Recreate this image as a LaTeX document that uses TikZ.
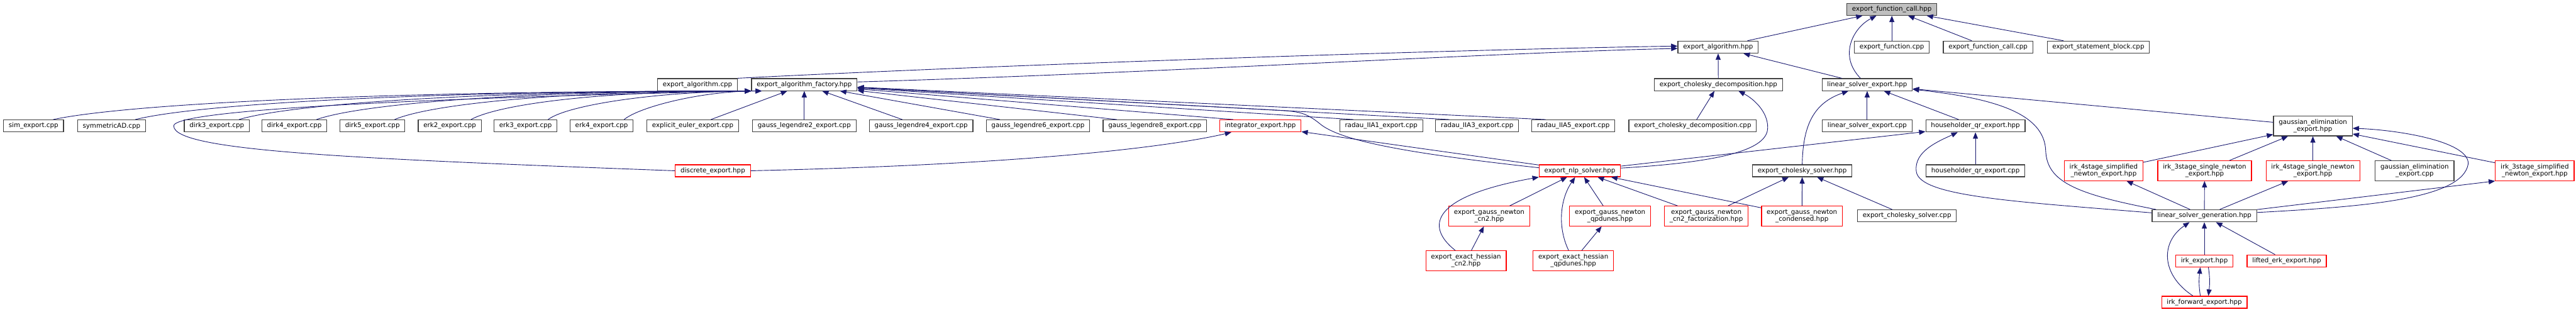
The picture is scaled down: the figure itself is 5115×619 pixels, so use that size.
\documentclass[tikz,border=0pt]{standalone}
\usepackage{fontspec}
\setmainfont{DejaVu Sans}
\usepackage{tikz}
\usetikzlibrary{arrows.meta}
\definecolor{edgeblue}{HTML}{191970}
\definecolor{boxgrey}{HTML}{404040}
\definecolor{boxred}{HTML}{FF0000}
\definecolor{rootfill}{HTML}{BFBFBF}
\newcommand{\filefont}{\fontsize{9.65pt}{10.7pt}\selectfont}
\tikzstyle{filebox} = [rectangle, draw=boxgrey, line width=1.1pt, fill=white, inner xsep=7.8pt, inner ysep=0pt, minimum height=17.9pt, align=center, font=\filefont]
\tikzstyle{hdrbox} = [filebox, draw=boxred]
\tikzstyle{rootbox} = [filebox, fill=rootfill]
\tikzstyle{twoline} = [minimum height=29.5pt]
\tikzstyle{arrow} = [->, >={Triangle[length=9.5pt,width=7.5pt]}, draw=edgeblue, line width=0.85pt]

\begin{document}
\begin{tikzpicture}[x=0.75pt, y=-0.75pt]
\useasboundingbox (0,0) rectangle (5115,619);

\node (fcallhpp) [rootbox] at (3756.5,18.5) {export\_function\_call.hpp};

\node (algohpp) [filebox] at (3411.5,93.5) {export\_algorithm.hpp};
\node (funccpp) [filebox] at (3756.5,93.5) {export\_function.cpp};
\node (fcallcpp) [filebox] at (3947.5,93.5) {export\_function\_call.cpp};
\node (stmtcpp) [filebox] at (4166.5,93.5) {export\_statement\_block.cpp};

\node (algocpp) [filebox] at (1385,168) {export\_algorithm.cpp};
\node (factory) [filebox] at (1597,168) {export\_algorithm\_factory.hpp};
\node (choldechpp) [filebox] at (3412,168) {export\_cholesky\_decomposition.hpp};
\node (lsehpp) [filebox] at (3707.5,168) {linear\_solver\_export.hpp};

\node (simcpp) [filebox] at (66.5,250) {sim\_export.cpp};
\node (symad) [filebox] at (221.5,250) {symmetricAD.cpp};
\node (dirk3) [filebox] at (430.5,250) {dirk3\_export.cpp};
\node (dirk4) [filebox] at (584.5,250) {dirk4\_export.cpp};
\node (dirk5) [filebox] at (739.5,250) {dirk5\_export.cpp};
\node (erk2) [filebox] at (893,250) {erk2\_export.cpp};
\node (erk3) [filebox] at (1043.5,250) {erk3\_export.cpp};
\node (erk4) [filebox] at (1194.5,250) {erk4\_export.cpp};
\node (euler) [filebox] at (1375.5,250) {explicit\_euler\_export.cpp};
\node (gl2) [filebox] at (1597,250) {gauss\_legendre2\_export.cpp};
\node (gl4) [filebox] at (1829,250) {gauss\_legendre4\_export.cpp};
\node (gl6) [filebox] at (2061,250) {gauss\_legendre6\_export.cpp};
\node (gl8) [filebox] at (2293,250) {gauss\_legendre8\_export.cpp};
\node (integrator) [hdrbox] at (2502.5,250) {integrator\_export.hpp};
\node (radau1) [filebox] at (2742.5,250) {radau\_IIA1\_export.cpp};
\node (radau3) [filebox] at (2933,250) {radau\_IIA3\_export.cpp};
\node (radau5) [filebox] at (3124,250) {radau\_IIA5\_export.cpp};
\node (choldeccpp) [filebox] at (3361,250) {export\_cholesky\_decomposition.cpp};
\node (lsecpp) [filebox] at (3707.5,250) {linear\_solver\_export.cpp};
\node (hqrhpp) [filebox] at (3922.5,250) {householder\_qr\_export.hpp};
\node (gausselimhpp) [filebox, twoline] at (4592.5,250) {gaussian\_elimination\\\_export.hpp};

\node (discrete) [hdrbox] at (1415.5,339) {discrete\_export.hpp};
\node (nlp) [hdrbox] at (3137,339) {export\_nlp\_solver.hpp};
\node (cholsolvhpp) [filebox] at (3578.5,339) {export\_cholesky\_solver.hpp};
\node (hqrcpp) [filebox] at (3922.5,339) {householder\_qr\_export.cpp};
\node (irk4simp) [hdrbox, twoline] at (4177,339) {irk\_4stage\_simplified\\\_newton\_export.hpp};
\node (irk3single) [hdrbox, twoline] at (4377.5,339) {irk\_3stage\_single\_newton\\\_export.hpp};
\node (irk4single) [hdrbox, twoline] at (4592.5,339) {irk\_4stage\_single\_newton\\\_export.hpp};
\node (gausselimcpp) [filebox, twoline] at (4794.5,339) {gaussian\_elimination\\\_export.cpp};
\node (irk3simp) [hdrbox, twoline] at (5033,339) {irk\_3stage\_simplified\\\_newton\_export.hpp};

\node (gncn2) [hdrbox, twoline] at (2957,429) {export\_gauss\_newton\\\_cn2.hpp};
\node (gnqp) [hdrbox, twoline] at (3197,429) {export\_gauss\_newton\\\_qpdunes.hpp};
\node (gncn2fact) [hdrbox, twoline] at (3388,429) {export\_gauss\_newton\\\_cn2\_factorization.hpp};
\node (gncond) [hdrbox, twoline] at (3578,429) {export\_gauss\_newton\\\_condensed.hpp};
\node (cholsolvcpp) [filebox] at (3786.5,428.5) {export\_cholesky\_solver.cpp};
\node (lsgen) [filebox] at (4377,428.5) {linear\_solver\_generation.hpp};

\node (ehcn2) [hdrbox, twoline] at (2911,517.5) {export\_exact\_hessian\\\_cn2.hpp};
\node (ehqp) [hdrbox, twoline] at (3124,517.5) {export\_exact\_hessian\\\_qpdunes.hpp};
\node (irk) [hdrbox] at (4377,518) {irk\_export.hpp};
\node (lifted) [hdrbox] at (4540.5,518) {lifted\_erk\_export.hpp};

\node (irkfwd) [hdrbox] at (4377,600) {irk\_forward\_export.hpp};

\draw [arrow] (algohpp) -- (fcallhpp);
\draw [arrow] ([xshift=-10pt]lsehpp.north) .. controls (3650,110) and (3680,55) .. ([xshift=-23pt]fcallhpp.south);
\draw [arrow] (funccpp) -- (fcallhpp);
\draw [arrow] (fcallcpp) -- (fcallhpp);
\draw [arrow] (stmtcpp) -- (fcallhpp);

\draw [arrow] (algocpp.north east) .. controls (2000,128) and (2900,98) .. ([yshift=1.5pt]algohpp.west);
\draw [arrow] ([yshift=4pt]factory.east) .. controls (2300,145) and (2950,105) .. ([yshift=-2pt]algohpp.west);
\draw [arrow] (choldechpp) -- (algohpp);
\draw [arrow] (lsehpp) -- (algohpp);

\foreach \n/\a/\b in {simcpp/140/760, symad/120/670, dirk3/100/560, dirk4/85/475, dirk5/70/390, erk2/55/305}
  \draw [arrow] ([xshift=-16pt]\n.north east) .. controls +(\a,-30) and +(-\b,0) .. (factory.south west);
\draw [arrow] ([xshift=-14pt]erk3.north east) .. controls +(40,-30) and +(-200,0) .. ([xshift=16pt]factory.south west);
\draw [arrow] ([xshift=-14pt]erk4.north east) .. controls +(30,-25) and +(-120,0) .. ([xshift=16pt]factory.south west);
\draw [arrow] ([xshift=27pt]euler.north) -- (factory);
\draw [arrow] (gl2) -- (factory);
\draw [arrow] ([xshift=-28pt]gl4.north) -- (factory);
\foreach \n in {gl6, gl8, integrator, radau1, radau3, radau5}
  \draw [arrow] ([xshift=21pt]\n.north west) -- (factory);
\draw [arrow] (discrete.west) .. controls (700,315) and (345,300) .. (345,250) .. controls (345,205) and (1300,185) .. (factory.south west);
\draw [arrow] ([yshift=4.5pt]nlp.west) .. controls (2800,305) and (2660,280) .. (2620,245) .. controls (2595,225) and (2580,221) .. (2540,219) -- (factory);

\draw [arrow] (discrete.east) .. controls (2100,325) and (2350,285) .. ([xshift=18pt]integrator.south west);
\draw [arrow] (nlp) -- (integrator);

\draw [arrow] (choldeccpp) -- (choldechpp);
\draw [arrow] ([yshift=4pt]nlp.east) .. controls (3450,320) and (3510,290) .. (3510,253) .. controls (3510,220) and (3480,195) .. ([xshift=30pt]choldechpp.south);

\draw [arrow] (cholsolvhpp.north) .. controls (3580,250) and (3600,205) .. ([xshift=-28pt]lsehpp.south);
\draw [arrow] (lsecpp) -- (lsehpp);
\draw [arrow] (hqrhpp) -- (lsehpp);
\draw [arrow] (gausselimhpp) -- (lsehpp);
\draw [arrow] ([xshift=6.5pt]lsgen.north west) .. controls (4120,385) and (4065,360) .. (4062,300) .. controls (4060,225) and (3960,195) .. ([yshift=-7pt]lsehpp.east);

\draw [arrow] (hqrcpp) -- (hqrhpp);
\draw [arrow] (nlp) -- (hqrhpp);
\draw [arrow] ([yshift=4.5pt]lsgen.west) .. controls (4000,400) and (3810,390) .. (3805,340) .. controls (3800,300) and (3850,280) .. ([xshift=-26.5pt]hqrhpp.south);

\draw [arrow] (gncn2fact) -- (cholsolvhpp);
\draw [arrow] (gncond) -- (cholsolvhpp);
\draw [arrow] (cholsolvcpp) -- (cholsolvhpp);

\draw [arrow] (gncn2) -- (nlp);
\draw [arrow] ([xshift=-16pt]ehcn2.north) .. controls (2830,450) and (2840,390) .. (nlp.south west);
\draw [arrow] ([xshift=-7pt]ehqp.north) .. controls (3092,450) and (3098,395) .. ([xshift=-7pt]nlp.south);
\draw [arrow] (gnqp) -- (nlp);
\draw [arrow] (gncn2fact) -- (nlp);
\draw [arrow] (gncond) -- (nlp);
\draw [arrow] (ehcn2) -- (gncn2);
\draw [arrow] (ehqp) -- (gnqp);

\draw [arrow] (irk4simp) -- (gausselimhpp);
\draw [arrow] (irk3single) -- (gausselimhpp);
\draw [arrow] (irk4single) -- (gausselimhpp);
\draw [arrow] (gausselimcpp) -- (gausselimhpp);
\draw [arrow] (irk3simp) -- (gausselimhpp);
\draw [arrow] ([yshift=5pt]lsgen.east) .. controls (4700,410) and (4890,395) .. (4901,325) .. controls (4902,280) and (4760,258) .. ([yshift=-3.5pt]gausselimhpp.east);

\draw [arrow] (lsgen) -- (irk4simp);
\draw [arrow] (lsgen) -- (irk3single);
\draw [arrow] (lsgen) -- (irk4single);
\draw [arrow] (lsgen) -- (irk3simp.south west);

\draw [arrow] (irk) -- (lsgen);
\draw [arrow] (lifted) -- (lsgen);
\draw [arrow] ([xshift=-17pt]irkfwd.north) .. controls (4290,545) and (4290,480) .. ([xshift=-22pt]lsgen.south);
\draw [arrow] ([xshift=-6pt]irkfwd.north) .. controls +(-3,-20) and +(-3,25) .. ([xshift=-6pt]irk.south);
\draw [arrow] ([xshift=6pt]irk.south) .. controls +(3,20) and +(3,-25) .. ([xshift=6pt]irkfwd.north);

\end{tikzpicture}
\end{document}
